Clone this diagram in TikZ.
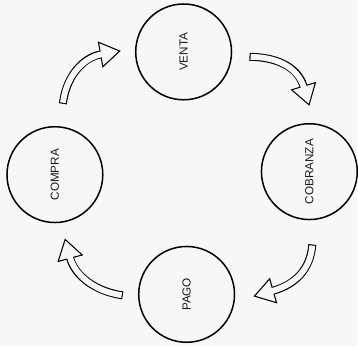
\documentclass[tikz,border=0pt]{standalone}
\usepackage{fontspec}
\setmainfont{Liberation Sans}
\usetikzlibrary{arrows.meta}
\colorlet{papel}{black!3}
\def\flecha(#1)(#2)(#3)(#4){%
	\draw[line width=2.4mm, -{Triangle[length=6.3mm, width=8mm, line width=0.32mm, fill=papel]}] (#1) .. controls (#2) and (#3) .. (#4);
	\draw[papel, line width=1.76mm, shorten <=0.32mm, shorten >=5.7mm] (#1) .. controls (#2) and (#3) .. (#4);
}

\begin{document}
\begin{tikzpicture}[x=0.3mm, y=-0.3mm,
		estado/.style={circle, draw, line width=0.45mm, minimum size=28.8mm, inner sep=0pt, rotate=90, text=black!90, font=\fontsize{10}{12}\selectfont}]
			%%%%% START %%%%%
			
			\fill[papel] (0, 0) rectangle (358, 347);
			
			\node[estado] (venta) at (184, 52) {VENTA};
			\node[estado] (cobranza) at (310, 172) {COBRANZA};
			\node[estado] (pago) at (187, 295) {PAGO};
			\node[estado] (compra) at (55, 175) {COMPRA};
			
			\coordinate (t1) at (63, 104);
			\coordinate (p1) at (121, 51);
			\coordinate (t2) at (250, 57);
			\coordinate (p2) at (310, 106);
			\coordinate (t3) at (313, 245);
			\coordinate (p3) at (254, 297);
			\coordinate (t4) at (123, 296);
			\coordinate (p4) at (65, 239);
			
			\flecha(t1)(66, 78)(82, 58)(p1)
			\flecha(t2)(275, 57)(298, 66)(p2)
			\flecha(t3)(311, 270)(296, 285)(p3)
			\flecha(t4)(95, 292)(75, 276)(p4)
			
			%%%%% END %%%%%
\end{tikzpicture}
\end{document}
